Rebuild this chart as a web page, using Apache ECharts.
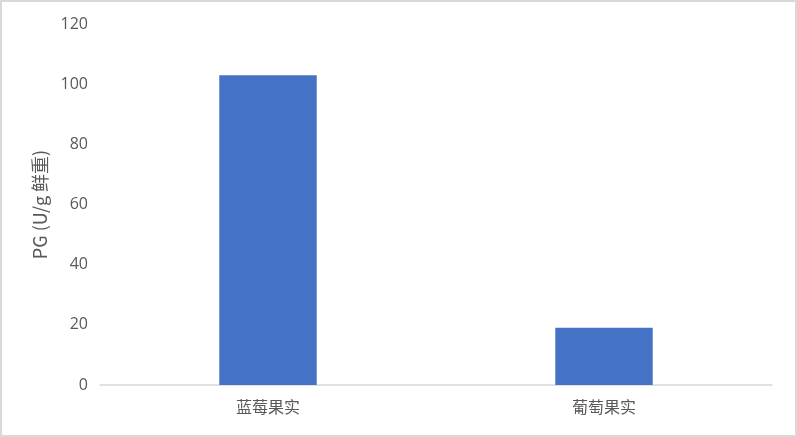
<!DOCTYPE html>
<html><head><meta charset="utf-8">
<script src="https://cdn.jsdelivr.net/npm/echarts@6/dist/echarts.min.js"></script>
<style>
html,body{margin:0;padding:0;background:#fff;}
#c{width:797px;height:437px;box-sizing:border-box;border:2px solid #d9d9d9;}
</style></head><body>
<div id="c"></div>
<script>
const categories = ['蓝莓果实', '葡萄果实'];
const pgValues = [103, 19];
const yTicks = [0, 20, 40, 60, 80, 100, 120];

const chart = echarts.init(document.getElementById('c'));
chart.setOption({
  animation: false,
  grid: { left: 98, right: 23, top: 22, bottom: 50 },
  xAxis: {
    type: 'category',
    data: categories,
    axisLine: { lineStyle: { color: '#d9d9d9', width: 1.5 } },
    axisTick: { show: false },
    axisLabel: { color: '#595959', fontSize: 16, margin: 14, fontFamily: 'Noto Sans CJK SC' }
  },
  yAxis: {
    type: 'value',
    min: yTicks[0],
    max: yTicks[yTicks.length - 1],
    interval: 20,
    name: 'PG (U/g 鲜重)',
    nameLocation: 'middle',
    nameGap: 50,
    nameTextStyle: { color: '#595959', fontSize: 18, fontFamily: 'Noto Sans CJK SC' },
    axisLine: { show: false },
    axisTick: { show: false },
    splitLine: { show: false },
    axisLabel: { color: '#595959', fontSize: 16, margin: 12, fontFamily: 'Open Sans' }
  },
  series: [{
    type: 'bar',
    data: pgValues,
    barWidth: '29%',
    itemStyle: { color: '#4472C4' }
  }]
});
</script>
</body></html>
